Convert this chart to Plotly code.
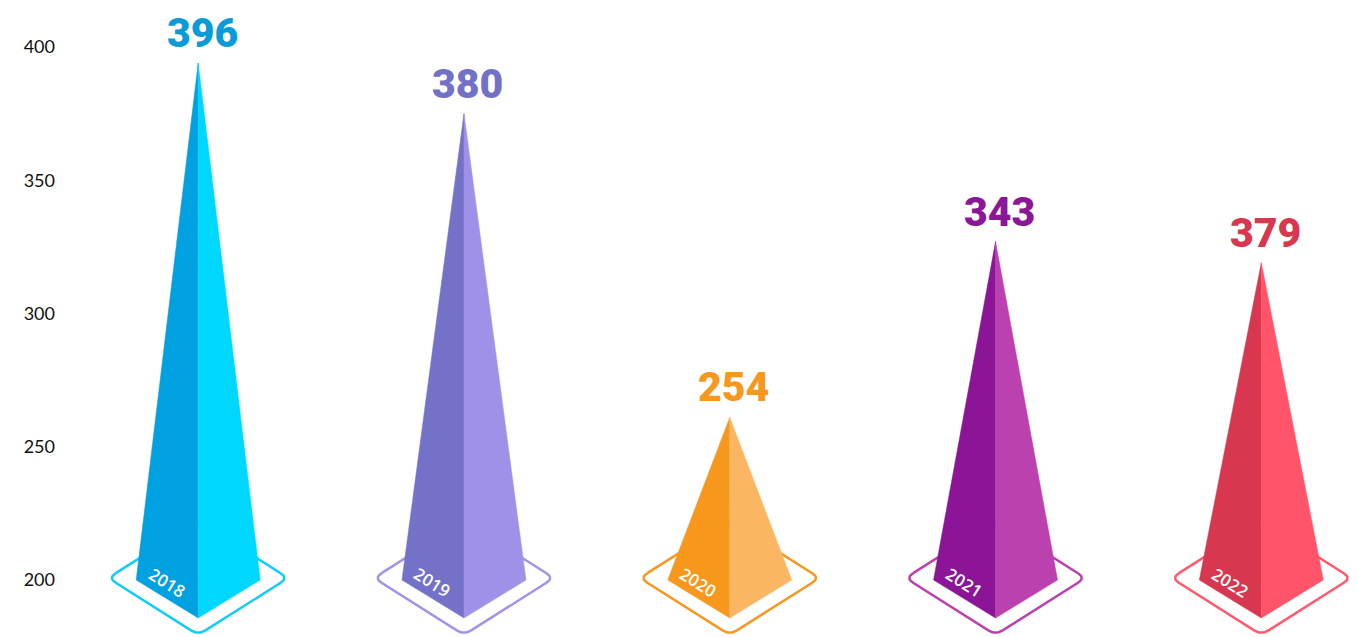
import plotly.graph_objects as go

# ---- data ----
years = ["2018", "2019", "2020", "2021", "2022"]
values = [396, 380, 254, 343, 379]            # printed value labels
peak_heights = [394, 375, 261, 327, 319]      # height of each pyramid tip on the axis
tick_vals = [200, 250, 300, 350, 400]
base_value = 200

# ---- styles ----
dark = ["#00A1E0", "#7471C8", "#F7981D", "#8B1596", "#D8374F"]
light = ["#00D7FF", "#9F90E8", "#FBB664", "#BB42AE", "#FF5469"]
outline = ["#10CCF8", "#A592E8", "#F7981D", "#BC41AE", "#FF5A6E"]
label_col = ["#0A9BD8", "#7370C8", "#F7981D", "#8B1697", "#D8374F"]

# page body has an 8px margin, so the figure is sized to fit the window
W, H = 1349, 629
ML = 48
X0, X1 = -0.535, 4.360
Y0, Y1 = 178.61, 414.63
px_x = (W - ML) / (X1 - X0)   # px per x unit
px_y = H / (Y1 - Y0)          # px per y unit


def to_data(i, dx, dy):
    # dx, dy are pixel offsets from (i, base_value); dy positive downward
    return i + dx / px_x, base_value - dy / px_y


def rounded(points, r=9, n=8):
    out = []
    m = len(points)
    for k in range(m):
        p_prev = points[k - 1]
        p = points[k]
        p_next = points[(k + 1) % m]

        def cut(a, b):
            dx, dy = a[0] - b[0], a[1] - b[1]
            L = (dx * dx + dy * dy) ** 0.5
            return (b[0] + dx * r / L, b[1] + dy * r / L)
        a = cut(p_prev, p)
        b = cut(p_next, p)
        for j in range(n + 1):
            t = j / n
            x = (1 - t) ** 2 * a[0] + 2 * (1 - t) * t * p[0] + t ** 2 * b[0]
            y = (1 - t) ** 2 * a[1] + 2 * (1 - t) * t * p[1] + t ** 2 * b[1]
            out.append((x, y))
    out.append(out[0])
    return out


fig = go.Figure()

diamond_px = [(-90, -2), (0, 55), (90, -2), (0, -59)]
HALF = 62
FRONT = 38

for i, yr in enumerate(years):
    pts = rounded(diamond_px)
    xs, ys = zip(*[to_data(i, dx, dy) for dx, dy in pts])
    fig.add_trace(go.Scatter(x=xs, y=ys, mode="lines", fill="toself",
                             fillcolor="white",
                             line=dict(color=outline[i], width=2.5),
                             hoverinfo="skip", showlegend=False))
    lx, ly = to_data(i, -HALF, 0)
    fx, fy = to_data(i, 0, FRONT)
    rx, ry = to_data(i, HALF, 0)
    top = peak_heights[i]
    fig.add_trace(go.Scatter(x=[i, lx, fx, i], y=[top, ly, fy, top],
                             mode="lines", fill="toself", fillcolor=dark[i],
                             line=dict(color=dark[i], width=0.5),
                             hoverinfo="skip", showlegend=False))
    fig.add_trace(go.Scatter(x=[i, fx, rx, i], y=[top, fy, ry, top],
                             mode="lines", fill="toself", fillcolor=light[i],
                             line=dict(color=light[i], width=0.5),
                             hoverinfo="skip", showlegend=False))
    fig.add_annotation(x=i, y=top, text=str(values[i]), showarrow=False,
                       xshift=4, yshift=30, yanchor="middle",
                       font=dict(family="Roboto", size=41, color=label_col[i],
                                 weight=900))
    fig.add_annotation(x=i, y=base_value, text=yr, showarrow=False,
                       xshift=-31, yshift=-2, textangle=32,
                       font=dict(family="Open Sans", size=17, color="white",
                                 weight=600))

fig.update_layout(
    width=W, height=H,
    margin=dict(l=ML, r=0, t=0, b=0),
    plot_bgcolor="white", paper_bgcolor="white",
    xaxis=dict(range=[X0, X1], visible=False, fixedrange=True),
    yaxis=dict(range=[Y0, Y1], tickvals=tick_vals,
               ticktext=[str(v) for v in tick_vals],
               showgrid=False, zeroline=False, showline=False, ticks="",
               tickfont=dict(family="Lato", size=18, color="#111111"),
               fixedrange=True),
)

fig.write_html("out.html")
